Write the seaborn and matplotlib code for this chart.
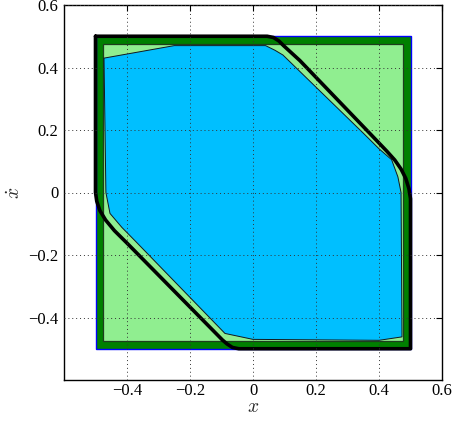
import numpy as np
import matplotlib
matplotlib.use("Agg")
import matplotlib.pyplot as plt
import seaborn as sns

# ---- data ----
outer_x = [-0.5, 0.5, 0.5, -0.5]
outer_y = [-0.5, -0.5, 0.5, 0.5]

inner_x = [-0.475, 0.475, 0.475, -0.475]
inner_y = [-0.475, -0.475, 0.475, 0.475]

blue_x = [-0.473, -0.25, 0.04, 0.07, 0.095, 0.35, 0.40, 0.44, 0.46, 0.47,
          0.473, 0.40, 0.0, -0.089, -0.375, -0.416, -0.454, -0.467]
blue_y = [0.43, 0.47, 0.47, 0.455, 0.44, 0.19, 0.14, 0.105, 0.05, 0.0,
          -0.462, -0.473, -0.47, -0.451, -0.154, -0.112, -0.067, 0.0]

curve_x = [-0.5, 0.045, 0.065, 0.082, 0.097, 0.149, 0.371, 0.425, 0.450, 0.470,
           0.485, 0.495, 0.5, 0.5,
           -0.045, -0.065, -0.082, -0.097, -0.400, -0.440, -0.468,
           -0.486, -0.496, -0.5]
curve_y = [0.5, 0.5, 0.496, 0.485, 0.470, 0.422, 0.189, 0.132, 0.104, 0.075,
           0.045, 0.012, -0.02, -0.5,
           -0.5, -0.496, -0.485, -0.472, -0.162, -0.122, -0.088,
           -0.058, -0.028, 0.0]

xticks = [-0.4, -0.2, 0.0, 0.2, 0.4, 0.6]
xtick_labels = ["\u22120.4", "\u22120.2", "0", "0.2", "0.4", "0.6"]
yticks = [-0.4, -0.2, 0.0, 0.2, 0.4, 0.6]
ytick_labels = ["\u22120.4", "\u22120.2", "0", "0.2", "0.4", "0.6"]

# ---- style ----
sns.set_theme(style="white")
plt.rcParams["font.family"] = ["Liberation Serif", "DejaVu Serif"]
plt.rcParams["mathtext.fontset"] = "cm"

fig = plt.figure(figsize=(4.55, 4.26), dpi=100)
ax = fig.add_axes([64 / 455, 46 / 426, 378 / 455, 375 / 426])

ax.fill(outer_x, outer_y, facecolor="#008000", edgecolor="#0000ff", lw=1.0, zorder=1)
ax.fill(inner_x, inner_y, facecolor="#90ee90", edgecolor="#1e3d1e", lw=0.9, zorder=1.1)
ax.fill(blue_x, blue_y, facecolor="#00bfff", edgecolor="#101820", lw=0.7, zorder=1.2)

cx = curve_x + [curve_x[0]]
cy = curve_y + [curve_y[0]]
sns.lineplot(x=cx, y=cy, sort=False, estimator=None, color="black", lw=2.6, ax=ax,
             zorder=2)
ax.lines[-1].set_solid_joinstyle("round")

ax.set_xlim(-0.6, 0.6)
ax.set_ylim(-0.6, 0.6)
ax.set_xticks(xticks)
ax.set_xticklabels(xtick_labels)
ax.set_yticks(yticks)
ax.set_yticklabels(ytick_labels)

ax.set_axisbelow(False)
ax.grid(True, linestyle=(0, (1, 3)), color="#333333", lw=0.7)

ax.tick_params(direction="in", top=True, right=True, length=4, width=0.8,
               labelsize=12, colors="black")
ax.tick_params(axis="x", pad=2)
ax.tick_params(axis="y", pad=4)
for s in ax.spines.values():
    s.set_color("black")
    s.set_linewidth(1.0)

ax.set_xlabel("$x$", fontsize=14, labelpad=0)
ax.set_ylabel("$\\dot{x}$", fontsize=14, labelpad=3)

fig.savefig("out.png", dpi=100)
